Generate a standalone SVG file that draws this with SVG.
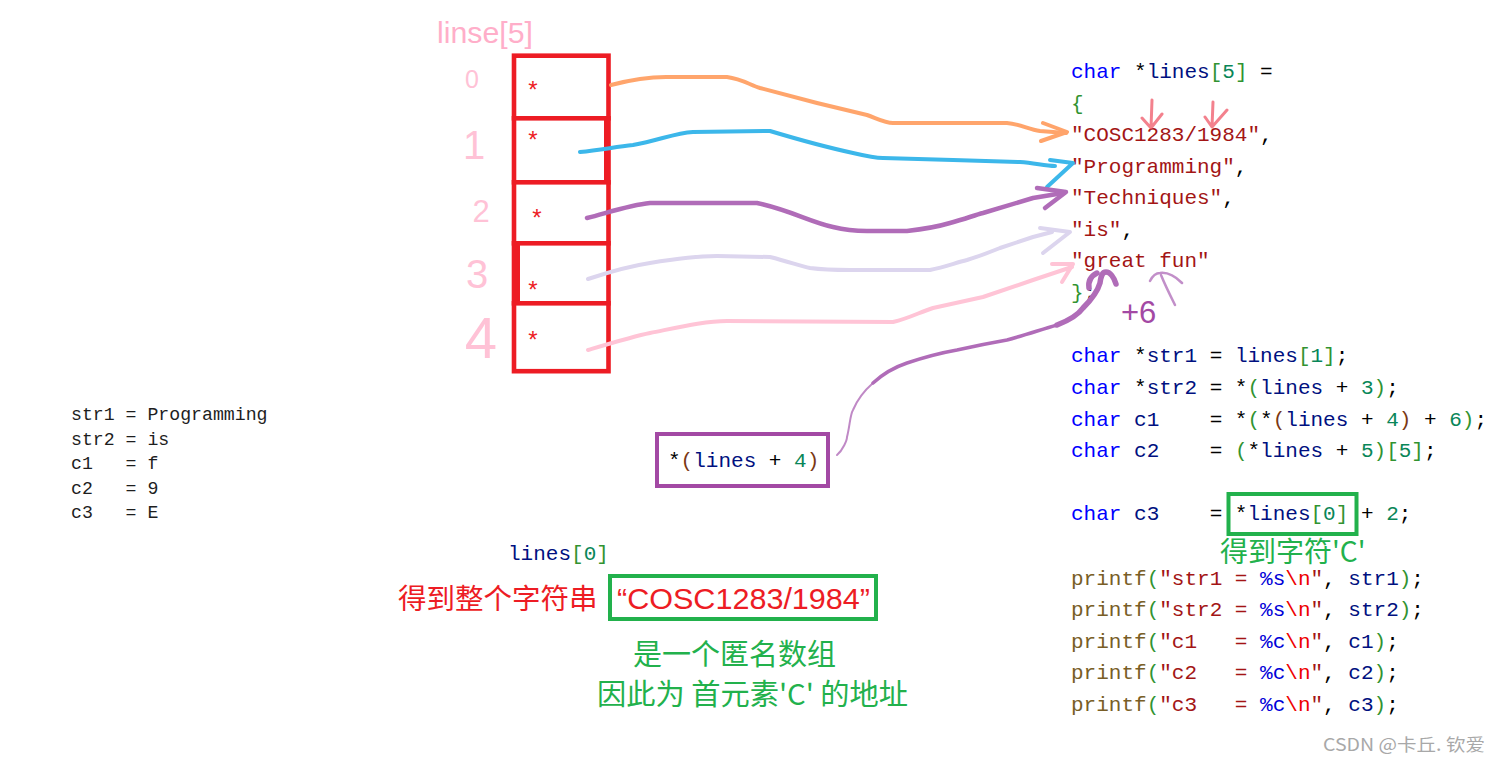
<svg xmlns="http://www.w3.org/2000/svg" width="1500" height="765" viewBox="0 0 1500 765">
<style>
.code{font-family:"Liberation Mono",monospace;font-size:21px;fill:#000000;white-space:pre}
.out{font-family:"Liberation Mono",monospace;font-size:18.2px;fill:#1e1e1e;white-space:pre}
.kw{fill:#0000ff}.id{fill:#001080}.num{fill:#098658}.str{fill:#a31515}
.b1{fill:#319331}.b2{fill:#7b3814}.fn{fill:#795e26}.esc{fill:#ee0000}.fmt{fill:#0000d8}
.cell{fill:#ffffff;stroke:#ed1c24;stroke-width:4.6}
.star{font-family:"Liberation Sans",sans-serif;font-size:24px;fill:#ed1c24;text-anchor:middle}
.idx{font-family:"Liberation Sans",sans-serif;fill:#ffc2d6;text-anchor:middle}
.cjk{font-family:"Noto Sans CJK SC",sans-serif}
.hand{fill:none;stroke-linecap:round;stroke-linejoin:round}
</style>
<rect width="1500" height="765" fill="#ffffff"/>

<g id="array-label">
<text x="437" y="43" font-family="Liberation Sans,sans-serif" font-size="30" fill="#ffaec9" textLength="96" lengthAdjust="spacingAndGlyphs">linse[5]</text>
</g>

<g id="indices">
<text class="idx" x="472" y="88" font-size="25">0</text>
<text class="idx" x="474" y="159" font-size="40">1</text>
<text class="idx" x="481" y="222" font-size="31">2</text>
<text class="idx" x="477" y="288" font-size="40">3</text>
<text class="idx" x="481" y="358" font-size="58">4</text>
</g>

<g id="lines-array">
<g id="cell0"><rect class="cell" x="514" y="55.7" width="94.5" height="62.6"/><text class="star" x="533" y="98">*</text></g>
<g id="cell1"><rect class="cell" x="514" y="118.3" width="94.5" height="64"/><rect x="604" y="120" width="4" height="61" fill="#ed1c24"/><text class="star" x="533" y="148">*</text></g>
<g id="cell2"><rect class="cell" x="514" y="182.3" width="94.5" height="61"/><text class="star" x="537" y="226">*</text></g>
<g id="cell3"><rect class="cell" x="514" y="243.3" width="94.5" height="60"/><rect x="514" y="245" width="6" height="57" fill="#ed1c24"/><text class="star" x="533" y="298">*</text></g>
<g id="cell4"><rect class="cell" x="514" y="303.3" width="94.5" height="67.9"/><text class="star" x="533" y="348">*</text></g>
</g>

<g id="code" class="code">
<text xml:space="preserve" x="1071" y="78"><tspan class="kw">char</tspan> *<tspan class="id">lines</tspan><tspan class="b1">[</tspan><tspan class="num">5</tspan><tspan class="b1">]</tspan> =</text>
<text xml:space="preserve" x="1071" y="109.5"><tspan class="b1">{</tspan></text>
<text xml:space="preserve" x="1071" y="141"><tspan class="str">"COSC1283/1984"</tspan>,</text>
<text xml:space="preserve" x="1071" y="172.5"><tspan class="str">"Programming"</tspan>,</text>
<text xml:space="preserve" x="1071" y="204"><tspan class="str">"Techniques"</tspan>,</text>
<text xml:space="preserve" x="1071" y="235.5"><tspan class="str">"is"</tspan>,</text>
<text xml:space="preserve" x="1071" y="267"><tspan class="str">"great fun"</tspan></text>
<text xml:space="preserve" x="1071" y="298.5"><tspan class="b1">}</tspan>;</text>
<text xml:space="preserve" x="1071" y="362"><tspan class="kw">char</tspan> *<tspan class="id">str1</tspan> = <tspan class="id">lines</tspan><tspan class="b1">[</tspan><tspan class="num">1</tspan><tspan class="b1">]</tspan>;</text>
<text xml:space="preserve" x="1071" y="394"><tspan class="kw">char</tspan> *<tspan class="id">str2</tspan> = *<tspan class="b1">(</tspan><tspan class="id">lines</tspan> + <tspan class="num">3</tspan><tspan class="b1">)</tspan>;</text>
<text xml:space="preserve" x="1071" y="425.5"><tspan class="kw">char</tspan> <tspan class="id">c1</tspan>    = *<tspan class="b1">(</tspan>*<tspan class="b2">(</tspan><tspan class="id">lines</tspan> + <tspan class="num">4</tspan><tspan class="b2">)</tspan> + <tspan class="num">6</tspan><tspan class="b1">)</tspan>;</text>
<text xml:space="preserve" x="1071" y="457"><tspan class="kw">char</tspan> <tspan class="id">c2</tspan>    = <tspan class="b1">(</tspan>*<tspan class="id">lines</tspan> + <tspan class="num">5</tspan><tspan class="b1">)[</tspan><tspan class="num">5</tspan><tspan class="b1">]</tspan>;</text>
<text xml:space="preserve" x="1071" y="520"><tspan class="kw">char</tspan> <tspan class="id">c3</tspan>    = *<tspan class="id">lines</tspan><tspan class="b1">[</tspan><tspan class="num">0</tspan><tspan class="b1">]</tspan> + <tspan class="num">2</tspan>;</text>
<text xml:space="preserve" x="1071" y="585"><tspan class="fn">printf</tspan><tspan class="b1">(</tspan><tspan class="str">"str1 = </tspan><tspan class="fmt">%s</tspan><tspan class="esc">\n</tspan><tspan class="str">"</tspan>, <tspan class="id">str1</tspan><tspan class="b1">)</tspan>;</text>
<text xml:space="preserve" x="1071" y="616"><tspan class="fn">printf</tspan><tspan class="b1">(</tspan><tspan class="str">"str2 = </tspan><tspan class="fmt">%s</tspan><tspan class="esc">\n</tspan><tspan class="str">"</tspan>, <tspan class="id">str2</tspan><tspan class="b1">)</tspan>;</text>
<text xml:space="preserve" x="1071" y="647.5"><tspan class="fn">printf</tspan><tspan class="b1">(</tspan><tspan class="str">"c1   = </tspan><tspan class="fmt">%c</tspan><tspan class="esc">\n</tspan><tspan class="str">"</tspan>, <tspan class="id">c1</tspan><tspan class="b1">)</tspan>;</text>
<text xml:space="preserve" x="1071" y="679"><tspan class="fn">printf</tspan><tspan class="b1">(</tspan><tspan class="str">"c2   = </tspan><tspan class="fmt">%c</tspan><tspan class="esc">\n</tspan><tspan class="str">"</tspan>, <tspan class="id">c2</tspan><tspan class="b1">)</tspan>;</text>
<text xml:space="preserve" x="1071" y="710.5"><tspan class="fn">printf</tspan><tspan class="b1">(</tspan><tspan class="str">"c3   = </tspan><tspan class="fmt">%c</tspan><tspan class="esc">\n</tspan><tspan class="str">"</tspan>, <tspan class="id">c3</tspan><tspan class="b1">)</tspan>;</text>
</g>

<g id="c3-box">
<rect x="1228.5" y="494" width="128" height="40" fill="none" stroke="#22b14c" stroke-width="4"/>
<text x="1220" y="562" class="cjk" font-size="28" fill="#22b14c">得到字符'C'</text>
</g>

<g id="plus6">
<text x="1121" y="323" font-family="Liberation Sans,sans-serif" font-size="31" fill="#a349a4">+6</text>
</g>

<g id="output" class="out">
<text xml:space="preserve" x="71" y="420">str1 = Programming</text>
<text xml:space="preserve" x="71" y="444.5">str2 = is</text>
<text xml:space="preserve" x="71" y="469">c1   = f</text>
<text xml:space="preserve" x="71" y="493.5">c2   = 9</text>
<text xml:space="preserve" x="71" y="518">c3   = E</text>
</g>

<g id="lines4-box">
<rect x="657" y="434" width="171" height="52" fill="#ffffff" stroke="#a349a4" stroke-width="4"/>
<text class="code" x="668" y="467" xml:space="preserve">*<tspan class="b2">(</tspan><tspan class="id">lines</tspan> + <tspan class="num">4</tspan><tspan class="b2">)</tspan></text>
</g>

<g id="lines0-note">
<text class="code" x="508" y="560"><tspan class="id">lines</tspan><tspan class="b1">[</tspan><tspan class="num">0</tspan><tspan class="b1">]</tspan></text>
<text x="398" y="609" class="cjk" font-size="28.5" fill="#ed1c24">得到整个字符串</text>
<rect x="610" y="576" width="266" height="43" fill="none" stroke="#22b14c" stroke-width="4"/>
<text x="617" y="609" font-family="Liberation Sans,sans-serif" font-size="30" fill="#ed1c24" textLength="253" lengthAdjust="spacingAndGlyphs">“COSC1283/1984”</text>
<text x="633" y="665" class="cjk" font-size="29" fill="#22b14c">是一个匿名数组</text>
<text x="597" y="705" class="cjk" font-size="29" fill="#22b14c" textLength="311" lengthAdjust="spacingAndGlyphs">因此为 首元素'C' 的地址</text>
</g>

<g id="watermark">
<text x="1323" y="751" class="cjk" font-size="17.5" fill="#a8a8a8" textLength="162" lengthAdjust="spacingAndGlyphs">CSDN @卡丘. 钦爱</text>
</g>

<g id="connectors" class="hand">
<g id="conn0" stroke="#ffa064" stroke-width="4" opacity="0.95">
<path d="M611,85 C630,80 645,77 666,77 L727,77 C742,79 750,85 760,88 L817,103 L867,115 C878,119 885,123 893,123 L1007,123 C1020,124 1028,129 1040,131 L1066,133"/>
<path d="M1043,123 L1067,132 L1041,141"/>
</g>
<g id="conn1" stroke="#3cb7ea" stroke-width="4">
<path d="M580,152 C600,150 615,147 633,145 C660,140 675,133 693,132 L770,131 C800,140 830,148 853,153 C870,157 875,158 883,158 L953,160 L1020,162 C1035,163 1045,166 1055,166"/>
<path d="M1050,160 L1073,163 L1047,187"/>
</g>
<g id="conn2" stroke="#b06cb8" stroke-width="4.5">
<path d="M587,218 C610,212 630,205 650,203 L757,203 C790,210 810,222 833,227 C845,230 855,231 867,231 L907,231 C925,229 940,226 950,223 C965,219 975,215 983,213 L1033,198 L1063,193"/>
<path d="M1037,188 L1066,192 L1045,208"/>
</g>
<g id="conn3" stroke="#dcd5ee" stroke-width="4">
<path d="M588,279 C615,270 630,266 650,263 C680,258 700,256 717,256 L770,257 C790,262 800,266 810,268 C825,270 840,270 850,270 L930,270 C945,267 955,263 967,260 C980,256 990,252 1000,248 L1033,237 L1052,232"/>
<path d="M1040,228 L1070,232 L1043,253"/>
</g>
<g id="conn4" stroke="#ffc4d6" stroke-width="4">
<path d="M588,350 C615,342 635,336 650,333 C680,327 705,321 727,321 L893,322 C910,318 920,312 933,308 L983,297 L1033,280 L1072,267"/>
<path d="M1052,264 L1073,264 L1062,282"/>
</g>
<g id="conn5" stroke="#b06cb8">
<path stroke-width="2" opacity="0.8" d="M837,455 C843,450 847,440 847,437 C850,425 850,415 853,410 C858,398 865,390 873,383"/>
<path stroke-width="3.5" d="M873,383 C885,372 895,367 907,363 C925,357 940,353 957,350 C975,346 990,343 1007,340 C1025,335 1040,330 1057,325"/>
<path stroke-width="5.5" d="M1057,325 C1070,320 1078,315 1083,308 C1093,298 1098,290 1100,283 C1101,276 1102,272 1106,272 C1110,272 1114,277 1116,284"/>
<path stroke-width="5.5" d="M1089,288 C1088,281 1091,276 1097,273"/>
</g>
<g id="mark-fun" stroke="#b87cc0" stroke-width="2.5" opacity="0.85">
<path d="M1150,281 C1153,275 1156,273 1160,273 C1168,272 1175,276 1182,283"/>
<path d="M1161,275 C1165,285 1170,295 1175,305"/>
</g>
<g id="mark-cosc" stroke="#f05868" stroke-width="3" opacity="0.75">
<path d="M1152,100 L1151,128 M1142,118 L1151,128 L1162,114"/>
<path d="M1213,102 L1212,127 M1205,117 L1212,127 L1227,110"/>
</g>
</g>
</svg>
